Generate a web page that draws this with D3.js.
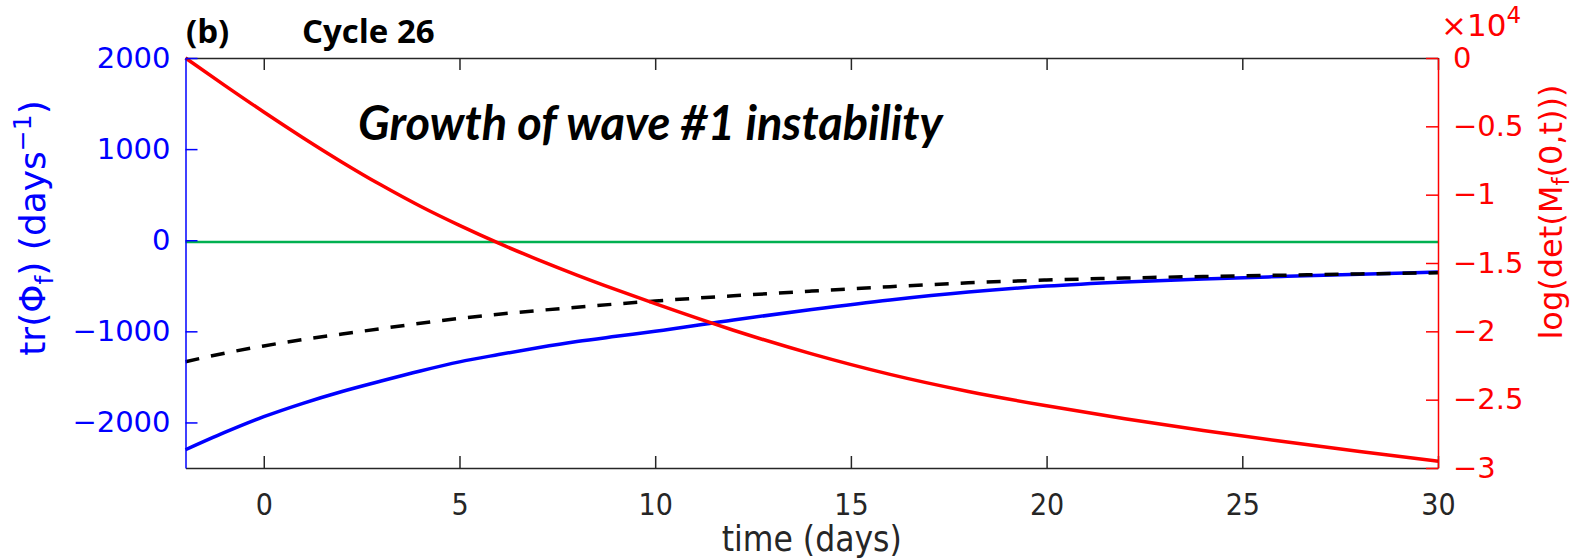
<!DOCTYPE html>
<meta charset="utf-8">
<html lang="en">
<head>
<title>Cycle 26</title>
<style>
  html, body { margin: 0; padding: 0; background: #fff; }
  #chart svg { display: block; }
  .tick text { font-family: "DejaVu Sans", sans-serif; }
</style>
</head>
<body>
<div id="chart"></div>
<script src="https://d3js.org/d3.v7.min.js"></script>
<script>
// values
const days = [-2, -1, 0, 1, 2, 3, 4, 5, 6, 7, 8, 9, 10, 12, 14, 16, 18, 20, 22, 24, 26, 28, 30];
// tr(Phi_f), blue solid
const traceSolid = [-2300, -2110, -1937, -1790, -1660, -1545, -1435, -1335, -1255, -1180, -1112, -1055, -1000,
                    -875, -760, -655, -568, -503, -458, -425, -398, -373, -350];
// black dashed
const traceDashed = [-1333, -1240, -1160, -1090, -1030, -970, -912, -858, -812, -772, -735, -700, -667,
                     -610, -558, -510, -468, -437, -415, -398, -384, -370, -357];
// log(det(M_f(0,t))), right axis
const logDet = [0, -2000, -3950, -5830, -7620, -9300, -10850, -12250, -13550, -14750, -15880, -16950, -17980,
                -19920, -21650, -23150, -24400, -25450, -26400, -27250, -28050, -28800, -29500];
const zeroLevel = -20; // green reference line

const xTicks = [0, 5, 10, 15, 20, 25, 30];
const leftTicks = [-2000, -1000, 0, 1000, 2000];
const rightTicks = [-30000, -25000, -20000, -15000, -10000, -5000, 0];

const W = 1575, H = 560;
const m = { left: 185.5, right: 1438, top: 58, bottom: 468 };

const BLUE = "#0000ff", RED = "#ff0000", DARK = "#262626";

const svg = d3.select("#chart").append("svg")
    .attr("width", W).attr("height", H);

const x = d3.scaleLinear().domain([-2, 30]).range([m.left, m.right]);
const yL = d3.scaleLinear().domain([-2500, 2000]).range([m.bottom, m.top]);
const yR = d3.scaleLinear().domain([-30000, 0]).range([m.bottom, m.top]);

const minus = s => String(s).replace("-", "\u2212");

// plot lines
const lineL = d3.line().x((d, i) => x(days[i])).y(d => yL(d)).curve(d3.curveMonotoneX);
const lineR = d3.line().x((d, i) => x(days[i])).y(d => yR(d)).curve(d3.curveMonotoneX);

svg.append("line")
    .attr("x1", x(-2)).attr("x2", x(30))
    .attr("y1", yL(zeroLevel)).attr("y2", yL(zeroLevel))
    .attr("stroke", "#00b050").attr("stroke-width", 2.5);

svg.append("path").datum(traceSolid)
    .attr("d", lineL).attr("fill", "none")
    .attr("stroke", BLUE).attr("stroke-width", 3.5);

svg.append("path").datum(traceDashed)
    .attr("d", lineL).attr("fill", "none")
    .attr("stroke", "#000").attr("stroke-width", 3.5)
    .attr("stroke-dasharray", "14,12");

svg.append("path").datum(logDet)
    .attr("d", lineR).attr("fill", "none")
    .attr("stroke", RED).attr("stroke-width", 3.5);

// axes
const gB = svg.append("g").attr("transform", `translate(0,${m.bottom})`)
    .call(d3.axisBottom(x).tickValues(xTicks).tickSize(-12).tickSizeOuter(0).tickPadding(26));
gB.select(".domain").attr("stroke", DARK).attr("stroke-width", 1.5);
gB.selectAll(".tick line").attr("stroke", DARK).attr("stroke-width", 1.5);
gB.selectAll(".tick text").attr("fill", DARK)
    .style("font-family", "'DejaVu Sans Condensed', 'DejaVu Sans', sans-serif")
    .attr("font-size", 30).attr("font-stretch", "condensed");

const gT = svg.append("g").attr("transform", `translate(0,${m.top})`)
    .call(d3.axisTop(x).tickValues(xTicks).tickSize(-12).tickSizeOuter(0).tickFormat(""));
gT.select(".domain").attr("stroke", DARK).attr("stroke-width", 1.5);
gT.selectAll(".tick line").attr("stroke", DARK).attr("stroke-width", 1.5);

const gL = svg.append("g").attr("transform", `translate(${m.left},0)`)
    .call(d3.axisLeft(yL).tickValues(leftTicks).tickSize(-12).tickSizeOuter(0).tickPadding(15)
        .tickFormat(d => minus(d)));
gL.select(".domain").attr("stroke", BLUE).attr("stroke-width", 1.5);
gL.selectAll(".tick line").attr("stroke", BLUE).attr("stroke-width", 1.5);
gL.selectAll(".tick text").attr("fill", BLUE).attr("font-size", 29);

const gR = svg.append("g").attr("transform", `translate(${m.right},0)`)
    .call(d3.axisRight(yR).tickValues(rightTicks).tickSize(-12).tickSizeOuter(0).tickPadding(15)
        .tickFormat(d => minus(d / 10000)));
gR.select(".domain").attr("stroke", RED).attr("stroke-width", 1.5);
gR.selectAll(".tick line").attr("stroke", RED).attr("stroke-width", 1.5);
gR.selectAll(".tick text").attr("fill", RED).attr("font-size", 29);

// exponent label on right axis
const expo = svg.append("text")
    .attr("x", 1441).attr("y", 36)
    .attr("fill", RED).attr("font-family", "DejaVu Sans, sans-serif").attr("font-size", 31);
expo.append("tspan").text("\u00d710");
expo.append("tspan").attr("dy", -13).attr("font-size", 23).text("4");

// axis titles
svg.append("text")
    .attr("transform", "translate(45,228) rotate(-90)")
    .attr("text-anchor", "middle")
    .attr("fill", BLUE).attr("font-family", "DejaVu Sans, sans-serif").attr("font-size", 36)
    .call(t => {
        t.append("tspan").text("tr(\u03a6");
        t.append("tspan").attr("dy", 8).attr("font-size", 25).text("f");
        t.append("tspan").attr("dy", -8).text(") (days");
        t.append("tspan").attr("dy", -14).attr("font-size", 25).text("\u22121");
        t.append("tspan").attr("dy", 14).text(")");
    });

svg.append("text")
    .attr("transform", "translate(1562,212) rotate(-90)")
    .attr("text-anchor", "middle")
    .attr("fill", RED).attr("font-family", "DejaVu Sans, sans-serif").attr("font-size", 32)
    .call(t => {
        t.append("tspan").text("log(det(M");
        t.append("tspan").attr("dy", 7).attr("font-size", 23).text("f");
        t.append("tspan").attr("dy", -7).text("(0,t)))");
    });

svg.append("text")
    .attr("x", (m.left + m.right) / 2).attr("y", 551)
    .attr("text-anchor", "middle").attr("fill", DARK)
    .style("font-family", "'DejaVu Sans Condensed', 'DejaVu Sans', sans-serif")
    .attr("font-stretch", "condensed").attr("font-size", 35)
    .text("time (days)");

// panel title and annotation
const title = svg.append("g")
    .attr("font-family", "'Open Sans', sans-serif").attr("font-weight", "bold").attr("font-size", 33)
    .attr("fill", "#000");
title.append("text").attr("x", 186).attr("y", 43).text("(b)");
title.append("text").attr("x", 302).attr("y", 43).text("Cycle 26");

svg.append("text")
    .attr("x", 358).attr("y", 140)
    .attr("font-family", "Lato, sans-serif").attr("font-weight", "bold").attr("font-style", "italic")
    .attr("font-size", 47).attr("fill", "#000")
    .text("Growth of wave #1 instability");
</script>
</body>
</html>
